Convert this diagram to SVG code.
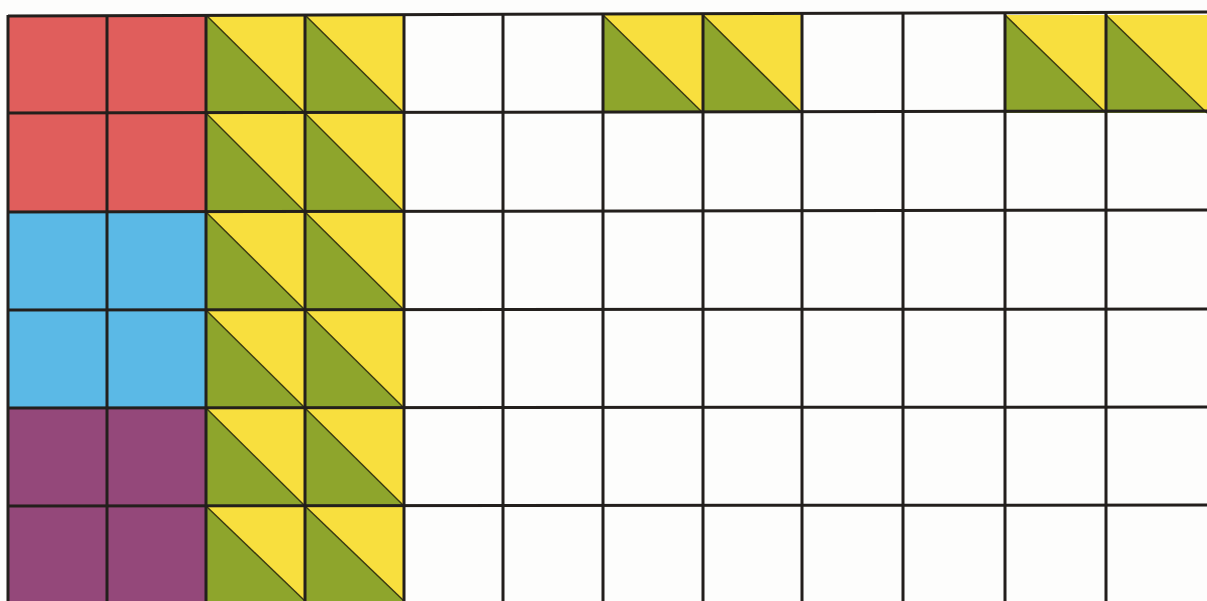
<svg xmlns="http://www.w3.org/2000/svg" xmlns:xlink="http://www.w3.org/1999/xlink" width="1207" height="601" viewBox="0 0 1207 601">
<style>
.red{fill:#e05e5c}.blue{fill:#5bb9e6}.purple{fill:#94487a}.green{fill:#8ea52c}.yellow{fill:#f8df3e}
.grid{stroke:#231f1c;stroke-width:3;fill:none}
.diag{stroke:#3a3a10;stroke-width:1.5}
</style>
<defs>
<g id="hst">
<polygon class="green" points="0,0 100,100 0,100"/>
<polygon class="yellow" points="0,0 100,0 100,100"/>
<line class="diag" x1="0" y1="0" x2="100" y2="100"/>
</g>
</defs>
<rect width="1207" height="601" fill="#fdfdfc"/>
<g id="solid">
<rect class="red" x="8" y="15" width="198" height="198"/>
<rect class="blue" x="8" y="212" width="198" height="196"/>
<rect class="purple" x="8" y="408" width="198" height="193"/>
</g>
<g id="triangles">
<use xlink:href="#hst" transform="translate(206,15) scale(0.99,0.98)"/>
<use xlink:href="#hst" transform="translate(305,15) scale(0.99,0.98)"/>
<use xlink:href="#hst" transform="translate(206,113) scale(0.99,0.99)"/>
<use xlink:href="#hst" transform="translate(305,113) scale(0.99,0.99)"/>
<use xlink:href="#hst" transform="translate(206,212) scale(0.99,0.98)"/>
<use xlink:href="#hst" transform="translate(305,212) scale(0.99,0.98)"/>
<use xlink:href="#hst" transform="translate(206,310) scale(0.99,0.98)"/>
<use xlink:href="#hst" transform="translate(305,310) scale(0.99,0.98)"/>
<use xlink:href="#hst" transform="translate(206,408) scale(0.99,0.98)"/>
<use xlink:href="#hst" transform="translate(305,408) scale(0.99,0.98)"/>
<use xlink:href="#hst" transform="translate(206,506) scale(0.99,0.95)"/>
<use xlink:href="#hst" transform="translate(305,506) scale(0.99,0.95)"/>
<use xlink:href="#hst" transform="translate(603,15) scale(1,0.98)"/>
<use xlink:href="#hst" transform="translate(703,15) scale(0.99,0.98)"/>
<use xlink:href="#hst" transform="translate(1005,15) scale(1.01,0.98)"/>
<use xlink:href="#hst" transform="translate(1106,15) scale(1.01,0.98)"/>
</g>
<g id="grid" class="grid">
<line x1="8" y1="16" x2="1207" y2="12"/>
<line x1="8" y1="113" x2="1207" y2="111"/>
<line x1="8" y1="212" x2="1207" y2="210"/>
<line x1="8" y1="310" x2="1207" y2="309"/>
<line x1="8" y1="408" x2="1207" y2="407"/>
<line x1="8" y1="506" x2="1207" y2="505"/>
<line x1="8" y1="15" x2="8" y2="601"/>
<line x1="107" y1="15" x2="107" y2="601"/>
<line x1="206" y1="15" x2="206" y2="601"/>
<line x1="305" y1="15" x2="305" y2="601"/>
<line x1="404" y1="14" x2="404" y2="601"/>
<line x1="503" y1="14" x2="503" y2="601"/>
<line x1="603" y1="14" x2="603" y2="601"/>
<line x1="703" y1="14" x2="703" y2="601"/>
<line x1="802" y1="13" x2="802" y2="601"/>
<line x1="903" y1="13" x2="903" y2="601"/>
<line x1="1005" y1="13" x2="1005" y2="601"/>
<line x1="1106" y1="12" x2="1106" y2="601"/>
</g>
</svg>
